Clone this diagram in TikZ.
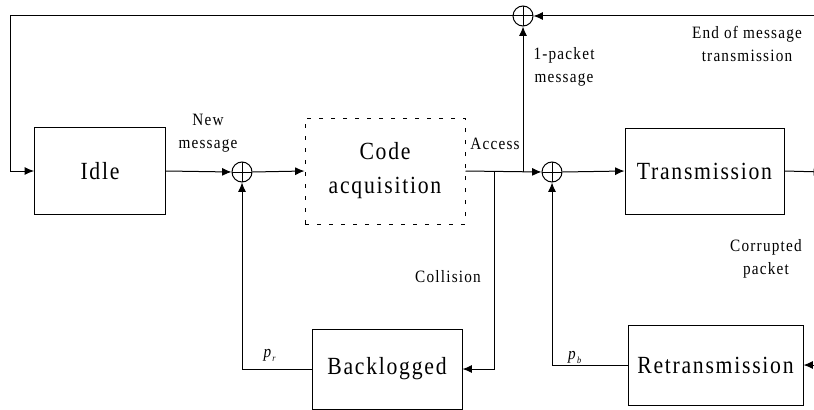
\documentclass[tikz,border=0pt]{standalone}
\usepackage{fontspec}
\setmainfont{Liberation Serif}[FakeStretch=0.88,LetterSpace=7]
\usetikzlibrary{arrows.meta,positioning,calc}

\begin{document}
\begin{tikzpicture}[x=0.75pt, y=-0.75pt,
    box/.style={rectangle, draw, line width=0.75pt, inner sep=0pt, align=center, font=\fontsize{18.5}{22.5}\selectfont},
    dashbox/.style={box, dash pattern=on 3pt off 6pt},
    sum/.style={circle, draw, line width=0.75pt, minimum size=15pt, inner sep=0pt,
        path picture={\draw (path picture bounding box.north) -- (path picture bounding box.south)
                            (path picture bounding box.west) -- (path picture bounding box.east);}},
    arrow/.style={-{Latex[length=7pt,width=6pt]}, line width=0.75pt},
    label/.style={font=\fontsize{13}{17.25}\selectfont, align=center}
]
\clip (0,0) rectangle (814,410);

% states
\node[box, minimum width=98.25pt, minimum height=65.25pt] (idle) at (100,171) {Idle};
\node[dashbox, minimum width=120pt, minimum height=79.5pt] (code) at (385,171) {Code\\[3pt]acquisition};
\node[box, minimum width=119.25pt, minimum height=64.5pt] (trans) at (704.5,171) {Transmission};
\node[box, minimum width=112.5pt, minimum height=60pt] (backlog) at (387,369) {Backlogged};
\node[box, minimum width=131.25pt, minimum height=60pt] (retrans) at (715.5,365) {Retransmission};

% summing points
\node[sum] (sumA) at (242,172) {};
\node[sum] (sumB) at (552,172) {};
\node[sum] (sumC) at (523,16) {};

% branch points and open ends
\coordinate (brUp) at (523,172);
\coordinate (brDown) at (494,172);
\coordinate (topEnd) at (830,16);
\coordinate (transEnd) at (823,172);
\coordinate (retransIn) at (830,365);

% labels
\node[label] (lblNew) at (208,133) {New\\message};
\node[label] (lblAccess) at (495,144) {Access};
\node[label] (lblOne) at (564,67) {1-packet\\message};
\node[label] (lblEnd) at (747,44) {End of message\\transmission};
\node[label] (lblColl) at (448,277) {Collision};
\node[label] (lblCorr) at (766,259) {Corrupted\\packet};
\node[label] (lblPr) at (270,355) {\textit{p}\raisebox{-3pt}{\scriptsize\textit{r}}};
\node[label] (lblPb) at (575,357) {\textit{p}\raisebox{-3pt}{\scriptsize\textit{b}}};

% main path
\draw[arrow] (idle.east) -- (sumA.west);
\draw[arrow] (sumA.east) -- (code.west);
\draw[arrow] (code.east) -- (sumB.west);
\draw[arrow] (sumB.east) -- (trans.west);
\draw[arrow] (trans.east) -- (transEnd);

% feedback loops
\draw[arrow] (topEnd) -- (sumC.east);
\draw[arrow] (sumC.west) -- (10,16) |- (idle.west);
\draw[arrow] (brUp) -- (sumC.south);
\draw[arrow] (brDown) |- (backlog.east);
\draw[arrow] (backlog.west) -| (sumA.south);
\draw[arrow] (retransIn) -- (retrans.east);
\draw[arrow] (retrans.west) -| (sumB.south);

\end{tikzpicture}
\end{document}
